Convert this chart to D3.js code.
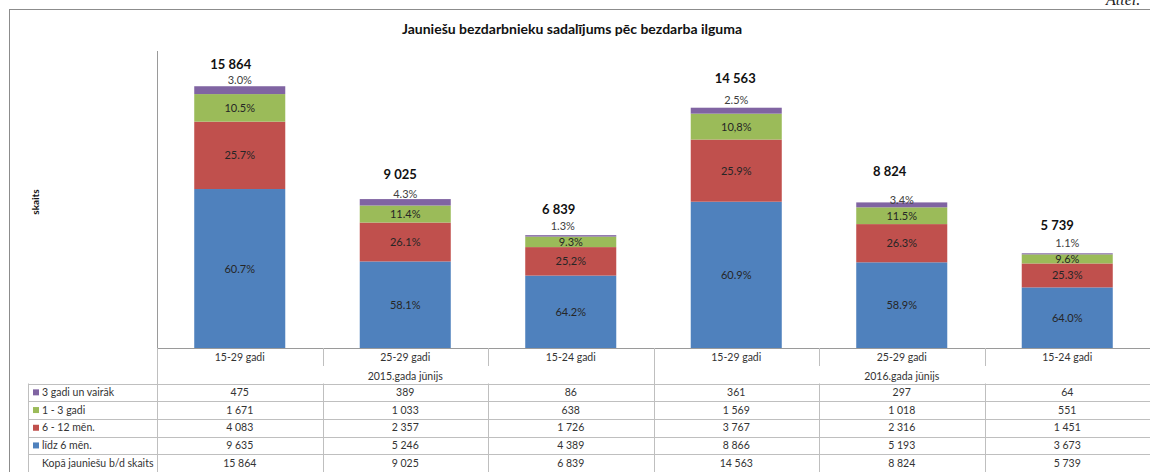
<!DOCTYPE html>
<html>
<head>
<meta charset="utf-8">
<script src="https://cdn.jsdelivr.net/npm/d3@7"></script>
<style>
  body { margin: 0; background: #fff; }
  svg { display: block; font-family: Lato, "Open Sans", sans-serif; }
</style>
</head>
<body>
<div id="chart"></div>
<script>
// categories (age groups) and their period groups
var categories = ["15-29 gadi", "25-29 gadi", "15-24 gadi", "15-29 gadi ", "25-29 gadi ", "15-24 gadi "];
var groups = ["2015.gada jūnijs", "2016.gada jūnijs"];
var seriesNames = ["līdz 6 mēn.", "6 - 12 mēn.", "1 - 3 gadi", "3 gadi un vairāk"];
var seriesColors = ["#4F81BD", "#C0504D", "#9BBB59", "#8064A2"];

// values per series, one entry per category
var lidz6 = [9635, 5246, 4389, 8866, 5193, 3673];
var men6to12 = [4083, 2357, 1726, 3767, 2316, 1451];
var gadi1to3 = [1671, 1033, 638, 1569, 1018, 551];
var gadi3plus = [475, 389, 86, 361, 297, 64];
var totals = [15864, 9025, 6839, 14563, 8824, 5739];

// percent labels as printed on the bars
var pctLidz6 = ["60.7%", "58.1%", "64.2%", "60.9%", "58.9%", "64.0%"];
var pct6to12 = ["25.7%", "26.1%", "25,2%", "25.9%", "26.3%", "25.3%"];
var pct1to3 = ["10.5%", "11.4%", "9.3%", "10,8%", "11.5%", "9.6%"];
var pct3plus = ["3.0%", "4.3%", "1.3%", "2.5%", "3.4%", "1.1%"];

// hand placed label offsets (as in the original)
var totalDx = [-9, -5, -12, -1, -12, -10];
var totalDy = [-17, -20, -21, -25, -26, -23];
var topDx = [0, 0, -8, 0, 0, 0];
var topDy = [-2, -1, -5, -4, 2, -6];

var width = 1150, height = 472;
var plot = { left: 157, right: 1150, top: 51, bottom: 348 };

var fmt = d3.formatLocale({ decimal: ",", thousands: "\u00a0", grouping: [3], currency: ["", ""] }).format(",d");

var svg = d3.select("#chart").append("svg")
    .attr("width", width)
    .attr("height", height);

svg.append("rect").attr("width", width).attr("height", height).attr("fill", "#fff");

// chart frame
svg.append("rect")
    .attr("x", 9.5).attr("y", 9.5)
    .attr("width", 1200).attr("height", 500)
    .attr("fill", "none").attr("stroke", "#8c8c8c");

svg.append("text")
    .attr("x", 1106).attr("y", 5)
    .attr("font-family", "'Liberation Serif', serif")
    .attr("font-style", "italic")
    .attr("font-size", 16)
    .attr("fill", "#222")
    .text("Attēl.");

svg.append("text")
    .attr("x", 572).attr("y", 34)
    .attr("text-anchor", "middle")
    .attr("font-weight", "bold")
    .attr("font-size", 14)
    .attr("fill", "#111")
    .text("Jauniešu bezdarbnieku sadalījums pēc bezdarba ilguma");

svg.append("text")
    .attr("transform", "translate(39,202) rotate(-90)")
    .attr("text-anchor", "middle")
    .attr("font-weight", "bold")
    .attr("font-size", 10)
    .attr("fill", "#111")
    .text("skaits");

var xScale = d3.scaleBand()
    .domain(categories)
    .range([plot.left, plot.right])
    .paddingInner(0.45)
    .paddingOuter(0.225);

var yScale = d3.scaleLinear()
    .domain([0, 18000])
    .range([plot.bottom, plot.top]);

// build stack input from the arrays
var rows = categories.map(function (c, i) {
    return { cat: c, s0: lidz6[i], s1: men6to12[i], s2: gadi1to3[i], s3: gadi3plus[i] };
});
var pctLabels = [pctLidz6, pct6to12, pct1to3, pct3plus];
var stacked = d3.stack().keys(["s0", "s1", "s2", "s3"])(rows);

var layer = svg.selectAll("g.layer").data(stacked).enter().append("g")
    .attr("class", "layer")
    .attr("fill", function (d, i) { return seriesColors[i]; });

layer.selectAll("rect").data(function (d) { return d; }).enter().append("rect")
    .attr("x", function (d) { return xScale(d.data.cat); })
    .attr("y", function (d) { return yScale(d[1]); })
    .attr("width", xScale.bandwidth())
    .attr("height", function (d) { return yScale(d[0]) - yScale(d[1]); });

// labels inside the three lower segments
stacked.slice(0, 3).forEach(function (s, k) {
    svg.append("g").selectAll("text").data(s).enter().append("text")
        .attr("x", function (d) { return xScale(d.data.cat) + xScale.bandwidth() / 2; })
        .attr("y", function (d) { return (yScale(d[0]) + yScale(d[1])) / 2 + 4; })
        .attr("text-anchor", "middle")
        .attr("font-size", 11)
        .attr("fill", "#262626")
        .text(function (d, i) { return pctLabels[k][i]; });
});

// top segment labels sit above the bar
svg.append("g").selectAll("text").data(stacked[3]).enter().append("text")
    .attr("x", function (d, i) { return xScale(d.data.cat) + xScale.bandwidth() / 2 + topDx[i]; })
    .attr("y", function (d, i) { return yScale(d[1]) + topDy[i]; })
    .attr("text-anchor", "middle")
    .attr("font-size", 11)
    .attr("fill", "#404040")
    .text(function (d, i) { return pct3plus[i]; });

// totals
svg.append("g").selectAll("text").data(totals).enter().append("text")
    .attr("x", function (d, i) { return xScale(categories[i]) + xScale.bandwidth() / 2 + totalDx[i]; })
    .attr("y", function (d, i) { return yScale(d) + totalDy[i]; })
    .attr("text-anchor", "middle")
    .attr("font-weight", "bold")
    .attr("font-size", 13)
    .attr("fill", "#111")
    .text(function (d) { return fmt(d); });

// value axis line
svg.append("line")
    .attr("x1", plot.left + 0.5).attr("x2", plot.left + 0.5)
    .attr("y1", plot.top).attr("y2", plot.bottom)
    .attr("stroke", "#9a9a9a");

// ---- data table below the plot ----
var grid = "#bfbfbf";
var catRowY = plot.bottom, grpRowY = 366, tableTop = 383.5, rowH = 17.7;
var tableLeft = 28;
var step = xScale.step();

var g = svg.append("g").attr("font-size", 10.5).attr("fill", "#333");

// baseline
g.append("line")
    .attr("x1", plot.left).attr("x2", width)
    .attr("y1", plot.bottom + 0.5).attr("y2", plot.bottom + 0.5)
    .attr("stroke", "#9a9a9a");

// category separators in the label row
categories.forEach(function (c, i) {
    var x = Math.round(plot.left + step * i) + 0.5;
    var full = (i === 0 || i === 3);
    g.append("line")
        .attr("x1", x).attr("x2", x)
        .attr("y1", catRowY).attr("y2", full ? height : grpRowY)
        .attr("stroke", grid);
    if (!full) {
        g.append("line")
            .attr("x1", x).attr("x2", x)
            .attr("y1", tableTop).attr("y2", height)
            .attr("stroke", grid);
    }
    g.append("text")
        .attr("x", xScale(c) + xScale.bandwidth() / 2)
        .attr("y", catRowY + 13)
        .attr("text-anchor", "middle")
        .text(c.trim());
});

groups.forEach(function (gr, j) {
    g.append("text")
        .attr("x", plot.left + step * (3 * j + 1.5))
        .attr("y", grpRowY + 14)
        .attr("text-anchor", "middle")
        .text(gr);
});

// table rows, top to bottom
var tableRows = [
    { name: seriesNames[3], color: seriesColors[3], vals: gadi3plus },
    { name: seriesNames[2], color: seriesColors[2], vals: gadi1to3 },
    { name: seriesNames[1], color: seriesColors[1], vals: men6to12 },
    { name: seriesNames[0], color: seriesColors[0], vals: lidz6 },
    { name: "Kopā jauniešu b/d skaits", color: null, vals: totals }
];

tableRows.forEach(function (r, k) {
    var y0 = tableTop + rowH * k;
    g.append("line")
        .attr("x1", tableLeft).attr("x2", width)
        .attr("y1", Math.round(y0) + 0.5).attr("y2", Math.round(y0) + 0.5)
        .attr("stroke", grid);
    if (r.color) {
        g.append("rect")
            .attr("x", 33).attr("y", y0 + rowH / 2 - 3)
            .attr("width", 6).attr("height", 6)
            .attr("fill", r.color);
    }
    g.append("text")
        .attr("x", 42).attr("y", y0 + rowH / 2 + 3.5)
        .text(r.name);
    r.vals.forEach(function (v, i) {
        g.append("text")
            .attr("x", xScale(categories[i]) + xScale.bandwidth() / 2)
            .attr("y", y0 + rowH / 2 + 3.5)
            .attr("text-anchor", "middle")
            .text(fmt(v));
    });
});

// left border of the legend column
g.append("line")
    .attr("x1", tableLeft + 0.5).attr("x2", tableLeft + 0.5)
    .attr("y1", tableTop).attr("y2", height)
    .attr("stroke", grid);
</script>
</body>
</html>
